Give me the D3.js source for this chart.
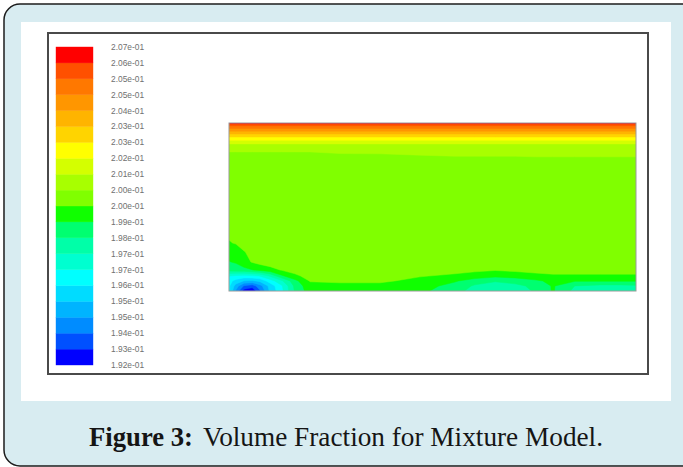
<!DOCTYPE html>
<html>
<head>
<meta charset="utf-8">
<script src="https://cdn.jsdelivr.net/npm/d3@7"></script>
<style>
  html, body { margin: 0; padding: 0; background: #ffffff; overflow: hidden; }
</style>
</head>
<body>
<svg id="chart" width="683" height="467"></svg>
<script>
// Contour levels of the colour bar (volume fraction), low to high
const levels = [
  0.19245, 0.19317, 0.19389, 0.19461, 0.19533, 0.19605, 0.19677,
  0.19749, 0.19821, 0.19893, 0.19965, 0.20037, 0.20109, 0.20181,
  0.20253, 0.20325, 0.20397, 0.20469, 0.20541, 0.20613, 0.20685
];
// Printed labels of those levels, low to high
const levelLabels = [
  "1.92e-01", "1.93e-01", "1.94e-01", "1.95e-01", "1.95e-01", "1.96e-01", "1.97e-01",
  "1.97e-01", "1.98e-01", "1.99e-01", "2.00e-01", "2.00e-01", "2.01e-01", "2.02e-01",
  "2.03e-01", "2.03e-01", "2.04e-01", "2.05e-01", "2.05e-01", "2.06e-01", "2.07e-01"
];
// Fill of each band between two consecutive levels, low to high
const bandColors = [
  "#0000ff", "#0050ff", "#008cff", "#00b4ff", "#00dcff", "#00ffff", "#00ffd0",
  "#00ffa8", "#00ff70", "#10ff00", "#80ff00", "#a8ff00", "#d4ff00", "#ffff00",
  "#ffd400", "#ffb400", "#ff9600", "#ff7800", "#ff5000", "#ff0000"
];

// Sample stations along the channel (fraction of its length)
const sampleX = [
  0, 0.017, 0.037, 0.057, 0.076, 0.101, 0.130, 0.162, 0.199, 0.273, 0.371,
  0.469, 0.555, 0.604, 0.654, 0.703, 0.752, 0.796, 0.850, 0.912, 0.961, 1
];
// Sample depths (fraction of the channel height, 0 = top wall)
const sampleDepth = [
  0, 0.012, 0.030, 0.048, 0.071, 0.095, 0.119, 0.149, 0.179, 0.208,
  0.339, 0.577, 0.714, 0.768, 0.827, 0.875, 0.911, 0.940, 0.970, 1
];
// Volume fraction at each station, one row per depth (top to bottom)
const volumeFraction = [
  [0.2064,0.2064,0.2064,0.2064,0.2064,0.2064,0.2064,0.2064,0.2064,0.2064,0.2064,0.2064,0.2064,0.2064,0.2064,0.2064,0.2064,0.2064,0.2064,0.2064,0.2064,0.2064],
  [0.2056,0.2056,0.2056,0.2056,0.2056,0.2056,0.2056,0.2056,0.2056,0.2056,0.2056,0.2056,0.2056,0.2056,0.2056,0.2056,0.2056,0.2056,0.2056,0.2056,0.2056,0.2056],
  [0.2048,0.2048,0.2048,0.2048,0.2048,0.2048,0.2048,0.2048,0.2048,0.2048,0.2048,0.2048,0.2048,0.2048,0.2048,0.2048,0.2048,0.2048,0.2048,0.2048,0.2048,0.2048],
  [0.2040,0.2040,0.2040,0.2040,0.2040,0.2040,0.2040,0.2040,0.2040,0.2040,0.2040,0.2040,0.2040,0.2040,0.2040,0.2040,0.2040,0.2040,0.2040,0.2040,0.2040,0.2040],
  [0.2030,0.2030,0.2030,0.2030,0.2030,0.2030,0.2030,0.2030,0.2030,0.2030,0.2030,0.2030,0.2030,0.2030,0.2030,0.2030,0.2030,0.2030,0.2030,0.2030,0.2030,0.2030],
  [0.2021,0.2021,0.2021,0.2021,0.2021,0.2021,0.2021,0.2021,0.2021,0.2021,0.2021,0.2021,0.2021,0.2021,0.2021,0.2021,0.2021,0.2021,0.2021,0.2021,0.2021,0.2021],
  [0.2012,0.2012,0.2012,0.2012,0.2012,0.2012,0.2012,0.2012,0.2012,0.2012,0.2012,0.2012,0.2012,0.2012,0.2012,0.2012,0.2012,0.2012,0.2012,0.2012,0.2012,0.2012],
  [0.2006,0.2006,0.2006,0.2006,0.2006,0.2006,0.2006,0.2006,0.2006,0.2006,0.2006,0.2006,0.2006,0.2006,0.2006,0.2006,0.2006,0.2006,0.2006,0.2006,0.2006,0.2006],
  [0.2003,0.2003,0.2003,0.2003,0.2003,0.2003,0.2003,0.2003,0.2003,0.2004,0.2004,0.2005,0.2005,0.2005,0.2005,0.2005,0.2006,0.2006,0.2006,0.2006,0.2006,0.2006],
  [0.2001,0.2001,0.2001,0.2001,0.2001,0.2001,0.2001,0.2001,0.2001,0.2001,0.2002,0.2002,0.2003,0.2003,0.2003,0.2003,0.2003,0.2003,0.2003,0.2003,0.2003,0.2003],
  [0.2000,0.2000,0.2000,0.2000,0.2000,0.2000,0.2000,0.2000,0.2000,0.2000,0.2000,0.2000,0.2000,0.2000,0.2000,0.2000,0.2000,0.2000,0.2000,0.2000,0.2000,0.2000],
  [0.2000,0.2000,0.2000,0.2000,0.2000,0.2000,0.2000,0.2000,0.2000,0.2000,0.2000,0.2000,0.2000,0.2000,0.2000,0.2000,0.2000,0.2000,0.2000,0.2000,0.2000,0.2000],
  [0.1996,0.1997,0.2000,0.2000,0.2000,0.2000,0.2000,0.2000,0.2000,0.2000,0.2000,0.2000,0.2000,0.2000,0.2000,0.2000,0.2000,0.2000,0.2000,0.2000,0.2000,0.2000],
  [0.1992,0.1993,0.1996,0.1999,0.2000,0.2000,0.2000,0.2000,0.2000,0.2000,0.2000,0.2000,0.2000,0.2000,0.2000,0.2000,0.2000,0.2000,0.2000,0.2000,0.2000,0.2000],
  [0.1989,0.1990,0.1994,0.1997,0.1999,0.2000,0.2000,0.2000,0.2000,0.2000,0.2000,0.2000,0.2000,0.2000,0.2000,0.2000,0.2000,0.2000,0.2000,0.2000,0.2000,0.2000],
  [0.1985,0.1986,0.1987,0.1989,0.1991,0.1994,0.1997,0.1999,0.2000,0.2000,0.2000,0.2000,0.1999,0.1998,0.1997,0.1998,0.1999,0.2000,0.2000,0.2000,0.2000,0.2000],
  [0.1968,0.1966,0.1965,0.1966,0.1968,0.1976,0.1988,0.1995,0.1999,0.1999,0.1998,0.1997,0.1995,0.1993,0.1991,0.1992,0.1994,0.1995,0.1995,0.1995,0.1995,0.1995],
  [0.1963,0.1958,0.1953,0.1952,0.1955,0.1964,0.1974,0.1987,0.1997,0.1998,0.1998,0.1994,0.1990,0.1986,0.1983,0.1985,0.1988,0.1991,0.1990,0.1990,0.1990,0.1990],
  [0.1962,0.1950,0.1938,0.1935,0.1943,0.1956,0.1967,0.1984,0.1994,0.1994,0.1994,0.1992,0.1987,0.1981,0.1978,0.1980,0.1984,0.1990,0.1982,0.1980,0.1980,0.1981],
  [0.1962,0.1945,0.1928,0.1926,0.1938,0.1955,0.1966,0.1983,0.1993,0.1993,0.1993,0.1991,0.1985,0.1979,0.1976,0.1978,0.1983,0.1990,0.1980,0.1978,0.1978,0.1979]
];

const captionBold = "Figure 3:";
const captionText = "Volume Fraction for Mixture Model.";

const svg = d3.select("#chart");

// Card background with rounded border, and the white figure panel
svg.append("rect")
  .attr("x", 4).attr("y", 4).attr("width", 730).attr("height", 462).attr("rx", 16)
  .attr("fill", "#d8ecf1").attr("stroke", "#1c1c1c").attr("stroke-width", 1.5);
svg.append("rect")
  .attr("x", 21).attr("y", 22).attr("width", 650).attr("height", 379)
  .attr("fill", "#ffffff");

// Graphics window frame
svg.append("rect")
  .attr("x", 48).attr("y", 33).attr("width", 600).attr("height", 341)
  .attr("fill", "none").attr("stroke", "#4a4a4a").attr("stroke-width", 2);

// Colour bar
const legendY = d3.scaleLinear()
  .domain([levels[0], levels[levels.length - 1]])
  .range([365, 47]);

svg.append("g").selectAll("rect")
  .data(bandColors)
  .join("rect")
  .attr("x", 56).attr("width", 37)
  .attr("y", (c, i) => legendY(levels[i + 1]))
  .attr("height", (c, i) => legendY(levels[i]) - legendY(levels[i + 1]))
  .attr("fill", c => c)
  .attr("stroke", c => c).attr("stroke-width", 0.4);

svg.append("g").selectAll("text")
  .data(levelLabels)
  .join("text")
  .attr("x", 111)
  .attr("y", (d, i) => legendY(levels[i]))
  .attr("dy", "0.35em")
  .attr("font-family", "'Liberation Sans', Arial, sans-serif")
  .attr("font-size", 8.4)
  .attr("fill", "#707070")
  .text(d => d);

// Contour field of the channel
const nx = sampleX.length, ny = sampleDepth.length;
const fieldX = d3.scaleLinear().domain([0, 1]).range([229, 636]);
const fieldY = d3.scaleLinear().domain([0, 1]).range([123, 291]);

// d3.contours places sample i at grid coordinate i + 0.5, with edges at 0 and n
const gridToX = d3.scaleLinear()
  .domain([0, ...sampleX.map((_, i) => i + 0.5), nx])
  .range([fieldX(sampleX[0]), ...sampleX.map(fieldX), fieldX(sampleX[nx - 1])]);
const gridToY = d3.scaleLinear()
  .domain([0, ...sampleDepth.map((_, i) => i + 0.5), ny])
  .range([fieldY(sampleDepth[0]), ...sampleDepth.map(fieldY), fieldY(sampleDepth[ny - 1])]);

const contours = d3.contours()
  .size([nx, ny])
  .thresholds(levels.slice(0, levels.length - 1))
  (volumeFraction.flat());

const toScreen = d3.geoTransform({
  point(x, y) { this.stream.point(gridToX(x), gridToY(y)); }
});
const contourPath = d3.geoPath(toScreen);

svg.append("clipPath").attr("id", "field-clip")
  .append("rect")
  .attr("x", fieldX(0)).attr("y", fieldY(0))
  .attr("width", fieldX(1) - fieldX(0)).attr("height", fieldY(1) - fieldY(0));

svg.append("g")
  .attr("clip-path", "url(#field-clip)")
  .selectAll("path")
  .data(contours)
  .join("path")
  .attr("d", contourPath)
  .attr("fill", d => bandColors[levels.indexOf(d.value)])
  .attr("stroke", d => bandColors[levels.indexOf(d.value)])
  .attr("stroke-width", 0.5);

svg.append("rect")
  .attr("x", fieldX(0)).attr("y", fieldY(0))
  .attr("width", fieldX(1) - fieldX(0)).attr("height", fieldY(1) - fieldY(0))
  .attr("fill", "none").attr("stroke", "#9a9a9a").attr("stroke-width", 1);

// Caption: bold figure number followed by the title
const captionFont = "'Liberation Serif', 'DejaVu Serif', serif";
svg.append("text")
  .attr("x", 89).attr("y", 446)
  .attr("font-family", captionFont)
  .attr("font-size", 28)
  .attr("font-weight", "bold")
  .attr("fill", "#151515")
  .attr("textLength", 104)
  .attr("lengthAdjust", "spacingAndGlyphs")
  .text(captionBold);
svg.append("text")
  .attr("x", 203).attr("y", 446)
  .attr("font-family", captionFont)
  .attr("font-size", 28)
  .attr("fill", "#151515")
  .attr("textLength", 400)
  .attr("lengthAdjust", "spacingAndGlyphs")
  .text(captionText);
</script>
</body>
</html>
